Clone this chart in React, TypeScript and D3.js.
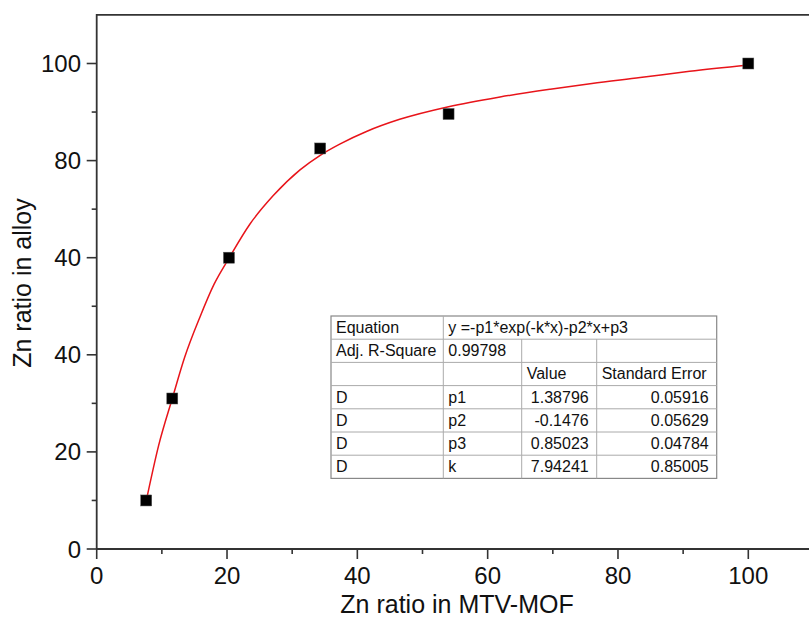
import React from "react";
import * as d3 from "d3";

const pointX = [7.6, 11.6, 20.3, 34.3, 54.0, 100];
const pointY = [10, 31, 60, 82.5, 89.6, 100];

const curveX = [7.6, 9.5, 11.6, 13.5, 15.85, 18, 20.3, 23.5, 27.1, 31.2, 34.3, 37.3, 41.4, 46.5, 54.0, 61.9, 69.6, 76.0, 83.4, 91.0, 100];
const curveY = [9.9, 21.3, 31.0, 39.5, 47.8, 54.5, 59.9, 66.9, 72.8, 78.1, 81.1, 83.4, 86.0, 88.5, 91.1, 93.1, 94.7, 95.9, 97.1, 98.4, 99.7];

const xMajor = [0, 20, 40, 60, 80, 100];
const xMinor = [10, 30, 50, 70, 90, 110];
const xTickLabels = ["0", "20", "40", "60", "80", "100"];
const yMajor = [0, 20, 40, 60, 80, 100];
const yMinor = [10, 30, 50, 70, 90];
const yTickLabels = ["0", "20", "40", "40", "80", "100"];

const xTitle = "Zn ratio in MTV-MOF";
const yTitle = "Zn ratio in alloy";

const tableRows: string[][] = [
  ["Equation", "y =-p1*exp(-k*x)-p2*x+p3"],
  ["Adj. R-Square", "0.99798", "", ""],
  ["", "", "Value", "Standard Error"],
  ["D", "p1", "1.38796", "0.05916"],
  ["D", "p2", "-0.1476", "0.05629"],
  ["D", "p3", "0.85023", "0.04784"],
  ["D", "k", "7.94241", "0.85005"],
];

const W = 809;
const H = 622;
const FONT = "'Liberation Sans', Arial, sans-serif";
const AXIS = "#333";

export default function App() {
  const x = d3.scaleLinear().domain([0, 110]).range([96.7, 96.7 + 110 * 6.516]);
  const y = d3.scaleLinear().domain([0, 110]).range([549, 549 - 110 * 4.855]);

  const line = d3
    .line<number>()
    .x((_, i) => x(curveX[i]))
    .y((d) => y(d))
    .curve(d3.curveMonotoneX);

  const x0 = x(0);
  const y0 = y(0);
  const yTop = y(110);

  // table geometry
  const tL = 331, tR = 716.7, tT = 316, tB = 478.4;
  const cols = [tL, 443.3, 521.7, 596.7, tR];
  const rowH = (tB - tT) / tableRows.length;

  return (
    <svg
      width={W}
      height={H}
      style={{ position: "absolute", left: 0, top: 0, background: "#fff" }}
      fontFamily={FONT}
    >
      <rect x={0} y={0} width={W} height={H} fill="#fff" />
      {/* frame */}
      <line x1={x0} x2={W + 5} y1={yTop} y2={yTop} stroke={AXIS} strokeWidth={1.8} />
      <line x1={x0} x2={W + 5} y1={y0} y2={y0} stroke={AXIS} strokeWidth={1.8} />
      <line x1={x0} x2={x0} y1={yTop - 0.9} y2={y0} stroke={AXIS} strokeWidth={1.8} />

      {/* x ticks */}
      {xMajor.map((v, i) => (
        <g key={"xm" + v}>
          <line x1={x(v)} x2={x(v)} y1={y0} y2={y0 + 10} stroke={AXIS} strokeWidth={1.6} />
          <text x={x(v)} y={584} fontSize={24} textAnchor="middle" fill="#111">
            {xTickLabels[i]}
          </text>
        </g>
      ))}
      {xMinor.map((v) => (
        <line key={"xn" + v} x1={x(v)} x2={x(v)} y1={y0} y2={y0 + 5} stroke={AXIS} strokeWidth={1.6} />
      ))}

      {/* y ticks */}
      {yMajor.map((v, i) => (
        <g key={"ym" + v}>
          <line x1={x0 - 10} x2={x0} y1={y(v)} y2={y(v)} stroke={AXIS} strokeWidth={1.6} />
          <text x={81} y={y(v) + 8.5} fontSize={24} textAnchor="end" fill="#111">
            {yTickLabels[i]}
          </text>
        </g>
      ))}
      {yMinor.map((v) => (
        <line key={"yn" + v} x1={x0 - 5} x2={x0} y1={y(v)} y2={y(v)} stroke={AXIS} strokeWidth={1.6} />
      ))}

      {/* titles */}
      <text x={457} y={613} fontSize={25} textAnchor="middle" fill="#111">
        {xTitle}
      </text>
      <text
        transform={`translate(31,283) rotate(-90)`}
        fontSize={25}
        textAnchor="middle"
        fill="#111"
      >
        {yTitle}
      </text>

      {/* fit curve */}
      <path d={line(curveY) || ""} fill="none" stroke="#e8141a" strokeWidth={1.5} />

      {/* points */}
      {pointX.map((v, i) => (
        <rect
          key={"p" + i}
          x={x(v) - 5.5}
          y={y(pointY[i]) - 5.5}
          width={11}
          height={11}
          fill="#000"
          stroke="#555"
          strokeWidth={0.5}
        />
      ))}

      {/* table */}
      <g>
        <rect x={tL} y={tT} width={tR - tL} height={tB - tT} fill="#fff" stroke="#888" strokeWidth={1.2} />
        {tableRows.map((row, r) => {
          const top = tT + r * rowH;
          const base = top + 17;
          return (
            <g key={"r" + r}>
              {r > 0 && <line x1={tL} x2={tR} y1={top} y2={top} stroke="#aaa" strokeWidth={1} />}
              {cols.slice(1, -1).map((cx, ci) =>
                row.length === 2 && ci > 0 ? null : (
                  <line key={"c" + ci} x1={cx} x2={cx} y1={top} y2={top + rowH} stroke="#aaa" strokeWidth={1} />
                )
              )}
              {row.map((cell, ci) => {
                if (!cell) return null;
                const rightAlign = r >= 3 && ci >= 2;
                const tx = rightAlign ? cols[ci + 1] - 8 : cols[ci] + 5;
                return (
                  <text
                    key={"t" + ci}
                    x={tx}
                    y={base}
                    fontSize={16}
                    textAnchor={rightAlign ? "end" : "start"}
                    fill="#111"
                  >
                    {cell}
                  </text>
                );
              })}
            </g>
          );
        })}
      </g>
    </svg>
  );
}
